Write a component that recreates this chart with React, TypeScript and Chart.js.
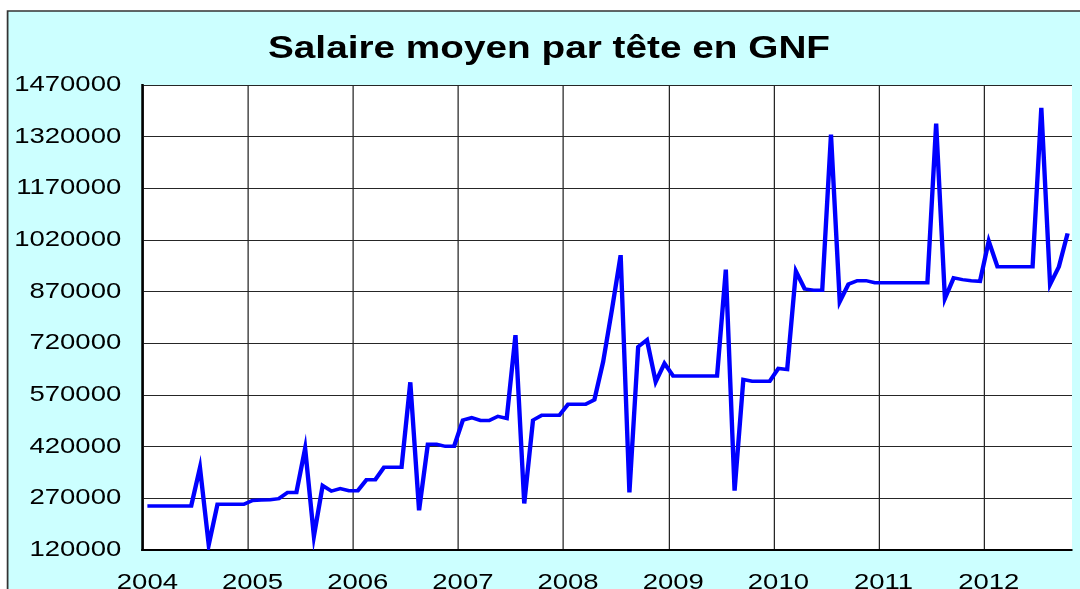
import React, { useEffect, useRef } from 'react';
import { Chart, registerables } from 'chart.js';

Chart.register(...registerables);

// ---- Data (monthly, Jan 2004 – Oct 2012) ----
const yearLabels = ['2004', '2005', '2006', '2007', '2008', '2009', '2010', '2011', '2012'];

const salaire2004 = [248000, 248000, 248000, 248000, 248000, 248000, 359000, 135000, 253000, 253000, 253000, 253000];
const salaire2005 = [264000, 265000, 266000, 269000, 287000, 287000, 415000, 160000, 307000, 291000, 298000, 292000];
const salaire2006 = [292000, 324000, 324000, 360000, 360000, 360000, 607000, 235000, 427000, 427000, 421000, 421000];
const salaire2007 = [497000, 504000, 496000, 496000, 508000, 502000, 744000, 255000, 497000, 511000, 511000, 511000];
const salaire2008 = [543000, 543000, 543000, 556000, 666000, 817000, 976000, 287000, 710000, 730000, 608000, 662000];
const salaire2009 = [625000, 625000, 625000, 625000, 625000, 625000, 934000, 292000, 615000, 610000, 610000, 610000];
const salaire2010 = [647000, 644000, 929000, 878000, 874000, 874000, 1326000, 841000, 892000, 902000, 902000, 896000];
const salaire2011 = [896000, 896000, 896000, 896000, 896000, 896000, 1358000, 850000, 910000, 905000, 902000, 900000];
const salaire2012 = [1017000, 942000, 942000, 942000, 942000, 942000, 1404000, 891000, 942000, 1039000];

const salaires = [
  ...salaire2004, ...salaire2005, ...salaire2006, ...salaire2007, ...salaire2008,
  ...salaire2009, ...salaire2010, ...salaire2011, ...salaire2012,
];
const categories = salaires.map(
  (_, i) => `${yearLabels[Math.floor(i / 12)]}-${String((i % 12) + 1).padStart(2, '0')}`
);

const Y_MIN = 120000;
const Y_MAX = 1470000;
const Y_STEP = 150000;
const TITLE = 'Salaire moyen par tête en GNF';

// ---- Layout ----
const SX = 1.25; // horizontal stretch of the original picture
const PHYS_W = 1080;
const CW = PHYS_W / SX; // 864 logical width
const CH = 600;
const FONT = "'Liberation Sans', Arial, sans-serif";
const GRID = '#262626';

const stretchPlugin = {
  id: 'stretchBg',
  afterLayout(chart: any) {
    // let the y tick labels extend into the left padding without being clipped
    if (chart.scales && chart.scales.y) chart.scales.y.left = 0;
  },
  beforeDraw(chart: any) {
    const c = chart.canvas as HTMLCanvasElement;
    if (c.width !== PHYS_W) c.width = PHYS_W;
    const ctx = chart.ctx as CanvasRenderingContext2D;
    ctx.save();
    ctx.setTransform(SX, 0, 0, 1, 0, 0);
    ctx.fillStyle = '#ffffff';
    ctx.fillRect(0, 0, chart.width + 10, chart.height);
    const boxL = 7.6 / SX;
    const boxT = 11;
    ctx.fillStyle = '#CCFFFF';
    ctx.fillRect(boxL, boxT, chart.width + 10, chart.height);
    ctx.strokeStyle = '#333333';
    ctx.lineWidth = 1.4;
    ctx.beginPath();
    ctx.moveTo(boxL, chart.height + 5);
    ctx.lineTo(boxL, boxT);
    ctx.lineTo(chart.width + 10, boxT);
    ctx.stroke();
    const a = chart.chartArea;
    if (a) {
      ctx.fillStyle = '#ffffff';
      ctx.fillRect(a.left, a.top, a.right - a.left, a.bottom - a.top);
    }
  },
  afterDraw(chart: any) {
    chart.ctx.restore();
  },
};

export default function App() {
  const ref = useRef<HTMLCanvasElement | null>(null);

  useEffect(() => {
    const canvas = ref.current;
    if (!canvas) return;
    canvas.width = CW;
    canvas.height = CH;
    const chart = new Chart(canvas, {
      type: 'line',
      data: {
        labels: categories,
        datasets: [
          {
            data: salaires,
            borderColor: '#0000FF',
            backgroundColor: '#0000FF',
            borderWidth: 3.5,
            pointRadius: 0,
            tension: 0,
            fill: false,
          },
        ],
      },
      plugins: [stretchPlugin],
      options: {
        responsive: false,
        animation: false,
        devicePixelRatio: 1,
        layout: { padding: { left: 20.8, right: 6.4, top: 0, bottom: 5 } },
        plugins: {
          legend: { display: false },
          tooltip: { enabled: false },
          title: {
            display: true,
            text: TITLE,
            color: '#000000',
            font: { family: FONT, size: 31, weight: 'bold' },
            padding: { top: 30.5, bottom: 17.3 },
          },
        },
        scales: {
          x: {
            type: 'category',
            offset: true,
            grid: {
              offset: true,
              drawTicks: false,
              lineWidth: 1,
              color: (ctx: any) =>
                ctx.index % 12 === 0 || ctx.index === salaires.length ? GRID : 'rgba(0,0,0,0)',
            },
            border: { display: true, color: '#000000', width: 2 },
            ticks: {
              autoSkip: false,
              maxRotation: 0,
              minRotation: 0,
              padding: 0,
              color: '#000000',
              font: { family: FONT, size: 22, lineHeight: 3 },
              callback: (_v: any, i: number) => (i % 12 === 0 ? yearLabels[i / 12] : ''),
            },
            afterFit: (s: any) => {
              s.height = 45;
            },
          },
          y: {
            min: Y_MIN,
            max: Y_MAX,
            ticks: {
              stepSize: Y_STEP,
              padding: 17.4,
              color: '#000000',
              font: { family: FONT, size: 22 },
              callback: (v: any) => String(v),
            },
            grid: { drawTicks: false, color: GRID, lineWidth: 1 },
            border: { display: true, color: '#000000', width: 2 },
            afterFit: (s: any) => {
              s.width = 93.6;
            },
          },
        },
      },
    } as any);
    return () => chart.destroy();
  }, []);

  return (
    <div
      style={{
        position: 'fixed',
        left: 0,
        top: 0,
        width: 1080,
        height: 589,
        overflow: 'hidden',
        background: '#ffffff',
      }}
    >
      <canvas
        ref={ref}
        width={CW}
        height={CH}
        style={{ display: 'block', width: `${PHYS_W}px`, height: `${CH}px` }}
      />
    </div>
  );
}
